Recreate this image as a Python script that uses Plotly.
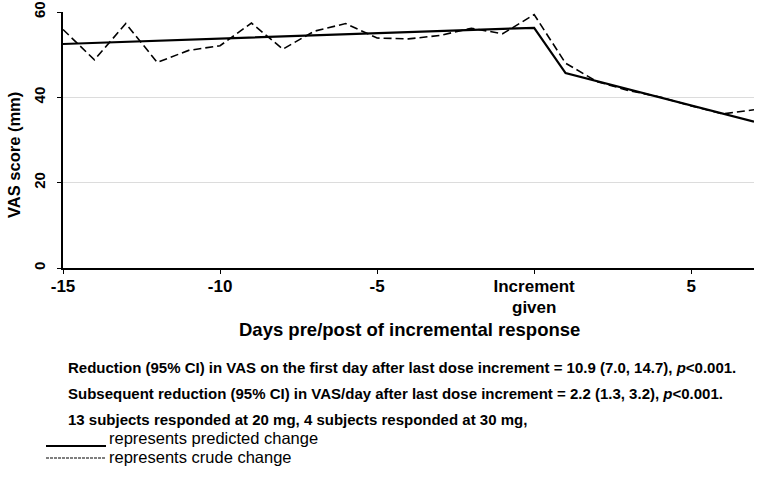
import plotly.graph_objects as go

# Data
crude_days = list(range(-15, 8))
crude_vas = [55.9, 48.8, 57.3, 48.2, 51.0, 52.1, 57.4, 51.3, 55.5, 57.3, 53.9,
             53.7, 54.5, 56.2, 54.9, 59.4, 48.0, 43.7, 41.6, 40.1, 38.0, 36.1, 37.1]
pred_days = [-15, 0, 1, 7]
pred_vas = [52.5, 56.3, 45.7, 34.3]

tick_vals = [-15, -10, -5, 0, 5]
tick_text = ["-15", "-10", "-5", "Increment", "5"]
tick_sub = "given"
y_ticks = [0, 20, 40, 60]

x_title = "Days pre/post of incremental response"
y_title = "VAS score (mm)"
notes = [
    "Reduction (95% CI) in VAS on the first day after last dose increment = 10.9 (7.0, 14.7), <i>p</i><0.001.",
    "Subsequent reduction (95% CI) in VAS/day after last dose increment = 2.2 (1.3, 3.2), <i>p</i><0.001.",
    "13 subjects responded at 20 mg, 4 subjects responded at 30 mg,",
]
legend_labels = ["represents predicted change", "represents crude change"]

font = "Liberation Sans, Arial, sans-serif"

fig = go.Figure()
fig.add_trace(go.Scatter(x=crude_days, y=crude_vas, mode="lines",
                         line=dict(color="black", width=1.6, dash="8px,4px"),
                         showlegend=False, hoverinfo="skip"))
fig.add_trace(go.Scatter(x=pred_days, y=pred_vas, mode="lines",
                         line=dict(color="black", width=2.2),
                         showlegend=False, hoverinfo="skip"))

W, H = 760, 494
L, R, T, B = 63, 6, 12, 226
pw, ph = W - L - R, H - T - B

def px(x):
    return (x - L) / pw

def py(y):
    return (H - B - y) / ph

# second line of the "Increment given" tick label
fig.add_annotation(text=f"<b>{tick_sub}</b>", x=tick_vals[3], xref="x", y=py(307), yref="paper",
                   xanchor="center", yanchor="middle", showarrow=False,
                   font=dict(family=font, size=17, color="black"))

# axis titles
fig.add_annotation(text=f"<b>{x_title}</b>", x=px(410), y=py(329), xref="paper", yref="paper",
                   xanchor="center", yanchor="middle", showarrow=False,
                   font=dict(family=font, size=18.5, color="black"))
fig.add_annotation(text=f"<b>{y_title}</b>", x=px(14), y=py(155), xref="paper", yref="paper",
                   xanchor="center", yanchor="middle", showarrow=False, textangle=-90,
                   font=dict(family=font, size=16.5, color="black"))

ys = [367, 393, 419]
for t, y in zip(notes, ys):
    fig.add_annotation(text=f"<b>{t}</b>", x=px(66), y=py(y), xref="paper", yref="paper",
                       xanchor="left", yanchor="middle", showarrow=False,
                       font=dict(family=font, size=15, color="black"))

ly = [438, 457]
for t, y in zip(legend_labels, ly):
    fig.add_annotation(text=t, x=px(107), y=py(y), xref="paper", yref="paper",
                       xanchor="left", yanchor="middle", showarrow=False,
                       font=dict(family=font, size=16.5, color="black"))

fig.add_shape(type="line", xref="paper", yref="paper", x0=px(46), x1=px(106),
              y0=py(446), y1=py(446), line=dict(color="black", width=2))
fig.add_shape(type="line", xref="paper", yref="paper", x0=px(46), x1=px(105),
              y0=py(458), y1=py(458), line=dict(color="black", width=1.2, dash="3px,1px"))

fig.update_layout(
    width=W, height=H, margin=dict(l=L, r=R, t=T, b=B, autoexpand=False),
    plot_bgcolor="white", paper_bgcolor="white",
    font=dict(family=font, color="black"),
    xaxis=dict(range=[-15, 7], tickvals=tick_vals, ticktext=tick_text,
               showgrid=False, zeroline=False, showline=True, linecolor="black",
               linewidth=1.5, ticks="outside", ticklen=4, tickcolor="black",
               ticklabelstandoff=-2, automargin=False,
               tickfont=dict(size=17, family=font, weight="bold")),
    yaxis=dict(range=[0, 60], tickvals=y_ticks, showgrid=True, gridcolor="#dcdcdc",
               gridwidth=1, zeroline=False, showline=True, linecolor="black",
               linewidth=1.5, ticks="outside", ticklen=4, tickcolor="black",
               ticklabelstandoff=6, automargin=False,
               tickfont=dict(size=15, family=font, weight="bold"), tickangle=-90),
)

fig.write_html("out.html", config={"displayModeBar": False},
               post_script="document.body.style.margin='0';document.body.style.overflow='hidden';")
